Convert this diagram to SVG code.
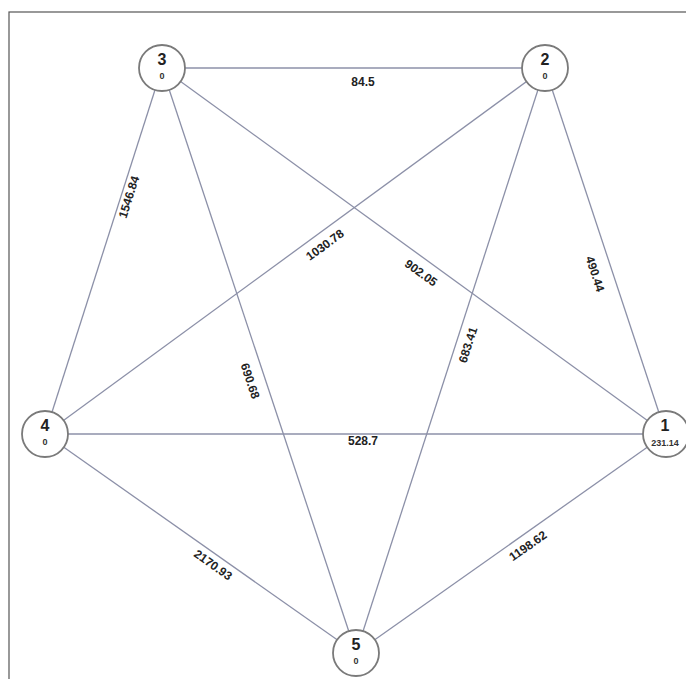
<svg xmlns="http://www.w3.org/2000/svg" width="686" height="679" viewBox="0 0 686 679">
<style>
.edge{stroke:#8c90a8;stroke-width:1.3;fill:none}
.node circle{fill:#fff;stroke:#7a7a7a;stroke-width:1.8}
.nid{font-family:"Liberation Sans",Arial,sans-serif;font-weight:bold;font-size:16px;fill:#222;text-anchor:middle}
.nval{font-family:"Liberation Sans",Arial,sans-serif;font-weight:bold;font-size:9px;fill:#333;text-anchor:middle}
.lbl{font-family:"Liberation Sans",Arial,sans-serif;font-weight:bold;font-size:12px;fill:#222;text-anchor:middle;dominant-baseline:central}
</style>
<rect x="0" y="0" width="686" height="679" fill="#fff"/>
<rect x="9" y="12" width="700" height="700" fill="none" stroke="#555" stroke-width="1.2"/>
<g id="connectors">
<line class="edge" x1="162" y1="68" x2="545" y2="68"/>
<line class="edge" x1="162" y1="68" x2="666" y2="434"/>
<line class="edge" x1="162" y1="68" x2="45" y2="434"/>
<line class="edge" x1="162" y1="68" x2="356" y2="653"/>
<line class="edge" x1="545" y1="68" x2="45" y2="434"/>
<line class="edge" x1="545" y1="68" x2="356" y2="653"/>
<line class="edge" x1="545" y1="68" x2="666" y2="434"/>
<line class="edge" x1="45" y1="434" x2="666" y2="434"/>
<line class="edge" x1="45" y1="434" x2="356" y2="653"/>
<line class="edge" x1="356" y1="653" x2="666" y2="434"/>
<text class="lbl" x="363" y="82">84.5</text>
<text class="lbl" transform="translate(421,273) rotate(36)">902.05</text>
<text class="lbl" transform="translate(325,245) rotate(-36.2)">1030.78</text>
<text class="lbl" transform="translate(129,197) rotate(-72.3)">1546.84</text>
<text class="lbl" transform="translate(250,381) rotate(71.6)">690.68</text>
<text class="lbl" transform="translate(468,345) rotate(-72.1)">683.41</text>
<text class="lbl" transform="translate(595,274) rotate(71.7)">490.44</text>
<text class="lbl" x="363" y="441">528.7</text>
<text class="lbl" transform="translate(213,565) rotate(35.2)">2170.93</text>
<text class="lbl" transform="translate(528,546) rotate(-35.2)">1198.62</text>
</g>
<g id="node3" class="node"><circle cx="162" cy="68" r="23"/><text class="nid" x="162" y="65">3</text><text class="nval" x="162" y="79">0</text></g>
<g id="node2" class="node"><circle cx="545" cy="68" r="23"/><text class="nid" x="545" y="65">2</text><text class="nval" x="545" y="79">0</text></g>
<g id="node4" class="node"><circle cx="45" cy="434" r="23"/><text class="nid" x="45" y="431">4</text><text class="nval" x="45" y="445">0</text></g>
<g id="node1" class="node"><circle cx="666" cy="434" r="23"/><text class="nid" x="665" y="431">1</text><text class="nval" x="665" y="446">231.14</text></g>
<g id="node5" class="node"><circle cx="356" cy="653" r="23"/><text class="nid" x="356" y="650">5</text><text class="nval" x="356" y="664">0</text></g>
</svg>
